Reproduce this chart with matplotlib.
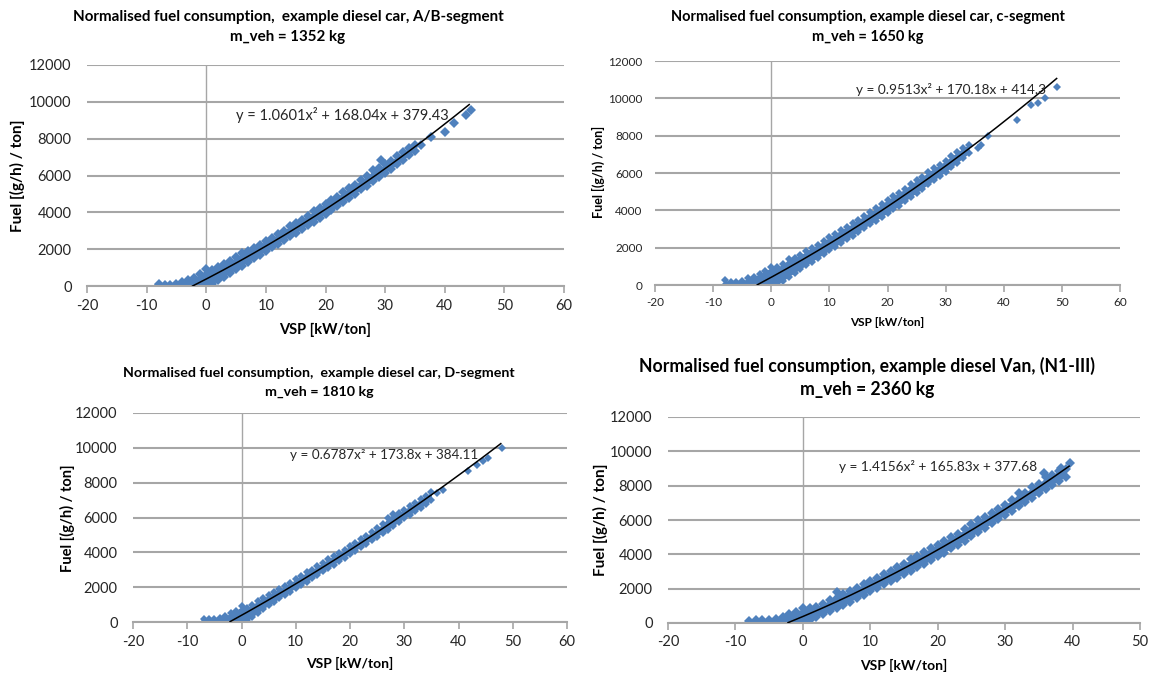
import numpy as np
import matplotlib.pyplot as plt

plt.rcParams['font.family'] = ['Lato', 'DejaVu Sans']
plt.rcParams['axes.unicode_minus'] = False

W, H = 1156, 677

# ---------- A/B-segment (band read as upper / lower edge per 1 kW/ton) ----------
ab_vsp = list(range(-8, 36))
ab_hi = [100, 50, 50, 100, 200, 300, 450, 650, 900, 850, 1050, 1200, 1350, 1550, 1800, 1900, 2050, 2250, 2450, 2600,
         2800, 3000, 3250, 3400, 3600, 3800, 4050, 4250, 4450, 4650, 4850, 5100, 5300, 5500, 5750, 5950, 6300, 6400,
         6600, 6800, 7050, 7250, 7500, 7650]
ab_lo = [50, 0, 0, 0, 0, 0, 0, 0, 0, 100, 300, 500, 700, 900, 1100, 1300, 1500, 1700, 1900, 2100,
         2300, 2500, 2700, 2900, 3100, 3300, 3500, 3700, 3900, 4100, 4350, 4550, 4800, 5000, 5250, 5450, 5700, 5900,
         6150, 6350, 6600, 6850, 7100, 7350]
ab_out_x = [29.3, 36, 37.7, 40, 41.6, 43.6, 44.4]
ab_out_y = [6840, 7650, 8070, 8380, 8830, 9290, 9560]
ab_fit = [1.0601, 168.04, 379.43]
ab_line = [-2.3, 44.1]

# ---------- C-segment ----------
c_vsp = list(range(-8, 35))
c_hi = [250, 180, 180, 220, 350, 450, 600, 750, 950, 950, 1100, 1400, 1450, 1600, 1800, 2000, 2150, 2350, 2550, 2750,
        2950, 3100, 3300, 3500, 3700, 3900, 4100, 4350, 4550, 4750, 4950, 5150, 5400, 5600, 5800, 6050, 6250, 6450,
        6650, 6900, 7100, 7350, 7500]
c_lo = [0, 0, 0, 0, 0, 0, 0, 0, 0, 0, 200, 450, 650, 850, 1050, 1250, 1450, 1650, 1850, 2050,
        2250, 2450, 2650, 2850, 3050, 3250, 3450, 3650, 3850, 4050, 4250, 4500, 4700, 4950, 5150, 5400, 5600, 5850,
        6050, 6300, 6550, 6800, 7050]
c_out_x = [35.6, 36.1, 37.3, 42.2, 44.7, 45.9, 47.1, 49.1]
c_out_y = [7350, 7500, 8000, 8840, 9640, 9770, 10040, 10590]
c_fit = [0.9513, 170.18, 414.3]
c_line = [-2.4, 49.1]

# ---------- D-segment ----------
d_vsp = list(range(-7, 36))
d_hi = [200, 150, 180, 250, 350, 500, 650, 900, 800, 1000, 1200, 1350, 1550, 1700, 1900, 2050, 2250, 2450, 2650, 2850,
        3000, 3200, 3400, 3600, 3800, 3950, 4150, 4350, 4550, 4750, 4950, 5150, 5400, 5600, 6000, 6200, 6250, 6450,
        6650, 6850, 7050, 7250, 7450]
d_lo = [0, 0, 0, 0, 0, 0, 0, 0, 100, 300, 500, 750, 950, 1150, 1350, 1550, 1750, 1950, 2100, 2300,
        2500, 2700, 2900, 3100, 3300, 3500, 3700, 3900, 4100, 4300, 4500, 4700, 4900, 5100, 5300, 5500, 5750, 5950,
        6150, 6350, 6550, 6750, 7000]
d_out_x = [36, 37.2, 41.8, 43.4, 44.6, 45.5, 48]
d_out_y = [7400, 7590, 8650, 9030, 9220, 9410, 9990]
d_fit = [0.6787, 173.8, 384.11]
d_line = [-2.1, 47.8]

# ---------- Van N1-III ----------
v_vsp = list(range(-8, 40))
v_hi = [100, 150, 150, 200, 250, 350, 500, 650, 850, 850, 950, 1100, 1350, 1800, 1700, 1850, 2050, 2250, 2450, 2650,
        2850, 3050, 3250, 3450, 3700, 3900, 4150, 4350, 4550, 4800, 5000, 5200, 5450, 5750, 6000, 6150, 6400, 6650,
        6900, 7150, 7550, 7600, 7900, 8100, 8500, 8650, 8850, 9000]
v_lo = [0, 0, 0, 0, 0, 0, 0, 0, 0, 150, 350, 500, 700, 850, 1050, 1250, 1450, 1650, 1850, 2050,
        2250, 2450, 2650, 2850, 3050, 3250, 3450, 3650, 3900, 4100, 4350, 4550, 4800, 5050, 5300, 5550, 5800, 6050,
        6300, 6550, 6800, 7050, 7300, 7550, 7800, 8050, 8300, 8500]
v_out_x = [35.8, 38.3, 39.6]
v_out_y = [8760, 9050, 9340]
v_fit = [1.4156, 165.83, 377.68]
v_line = [-2.2, 39.5]

blue = '#4F81BD'
grey = '#A6A6A6'
txt = '#262626'


def fx(px):
    return px / W


def fy(py):
    return 1 - py / H


def panel(box, vsp, lo, hi, ox, oy, fit, lrange, xmax, eq, eqpos, fs, eqfs, ms, ems, ypad):
    l, r, t, b = box
    ax = fig.add_axes([fx(l), fy(b), (r - l) / W, (b - t) / H])
    ax.fill_between(vsp, lo, hi, color=blue, lw=0, zorder=2)
    ax.plot(vsp, lo, 'D', color=blue, ms=ems, mew=0, zorder=2)
    ax.plot(vsp, hi, 'D', color=blue, ms=ems, mew=0, zorder=2)
    ax.plot(ox, oy, 'D', color=blue, ms=ms, mew=0, zorder=2)
    xl = np.linspace(lrange[0], lrange[1], 200)
    ax.plot(xl, np.polyval(fit, xl), color='black', lw=1.1, zorder=3)
    ax.set_xlim(-20, xmax)
    ax.set_ylim(0, 12000)
    ax.set_xticks(range(-20, xmax + 1, 10))
    ax.set_yticks(range(0, 12001, 2000))
    ax.grid(axis='y', color=grey, lw=1.5, zorder=0)
    ax.axvline(0, color=grey, lw=1, zorder=1)
    for s in ['top', 'right', 'left']:
        ax.spines[s].set_visible(False)
    ax.spines['bottom'].set_color(grey)
    ax.spines['bottom'].set_linewidth(1.5)
    ax.tick_params(axis='x', direction='out', length=5, width=1.2, color=grey,
                   labelsize=fs, labelcolor=txt, pad=4)
    ax.tick_params(axis='y', length=0, labelsize=fs, labelcolor=txt, pad=ypad)
    ax.text(eqpos[0], eqpos[1], eq, fontsize=eqfs, ha='left', va='center', color=txt, zorder=4)
    return ax


fig = plt.figure(figsize=(W / 100, H / 100), dpi=100)

panel((87, 564, 65, 286), ab_vsp, ab_lo, ab_hi, ab_out_x, ab_out_y, ab_fit, ab_line, 60,
      'y = 1.0601x² + 168.04x + 379.43', (5.0, 9285), 10.5, 10.5, 5, 4.6, 11)
panel((655, 1120, 61, 285), c_vsp, c_lo, c_hi, c_out_x, c_out_y, c_fit, c_line, 60,
      'y = 0.9513x² + 170.18x + 414.3', (14.6, 10450), 8.5, 9.8, 4.2, 4.4, 9)
panel((133, 567, 413, 622), d_vsp, d_lo, d_hi, d_out_x, d_out_y, d_fit, d_line, 60,
      'y = 0.6787x² + 173.8x + 384.11', (9.0, 9600), 10.5, 9.7, 4.5, 4.2, 11)
panel((668, 1140, 417, 623), v_vsp, v_lo, v_hi, v_out_x, v_out_y, v_fit, v_line, 50,
      'y = 1.4156x² + 165.83x + 377.68', (5.3, 9107), 10.5, 9.8, 5, 4.8, 11)

# titles
fig.text(fx(288), fy(17), 'Normalised fuel consumption,  example diesel car, A/B-segment',
         ha='center', va='center', fontsize=10.9, fontweight='bold')
fig.text(fx(288), fy(37), 'm_veh = 1352 kg', ha='center', va='center', fontsize=10.9, fontweight='bold')
fig.text(fx(868), fy(17), 'Normalised fuel consumption, example diesel car, c-segment',
         ha='center', va='center', fontsize=10.5, fontweight='bold')
fig.text(fx(868), fy(37), 'm_veh = 1650 kg', ha='center', va='center', fontsize=10.5, fontweight='bold')
fig.text(fx(319), fy(373), 'Normalised fuel consumption,  example diesel car, D-segment',
         ha='center', va='center', fontsize=10.3, fontweight='bold')
fig.text(fx(319), fy(392), 'm_veh = 1810 kg', ha='center', va='center', fontsize=10.3, fontweight='bold')
fig.text(fx(867), fy(366), 'Normalised fuel consumption, example diesel Van, (N1-III)',
         ha='center', va='center', fontsize=12.7, fontweight='bold')
fig.text(fx(867), fy(389), 'm_veh = 2360 kg', ha='center', va='center', fontsize=12.7, fontweight='bold')

# axis labels
for x, y, s in [(325, 330, 10.5), (887, 322, 8.5), (350, 663, 10), (904, 665, 10)]:
    fig.text(fx(x), fy(y), 'VSP [kW/ton]', ha='center', va='center', fontsize=s, fontweight='bold')
for x, y, s in [(17, 176, 11), (598, 172, 9), (67, 518, 10.5), (600, 520, 11)]:
    fig.text(fx(x), fy(y), 'Fuel [(g/h) / ton]', ha='center', va='center', rotation=90,
             fontsize=s, fontweight='bold')

fig.savefig('out.png', dpi=100)
